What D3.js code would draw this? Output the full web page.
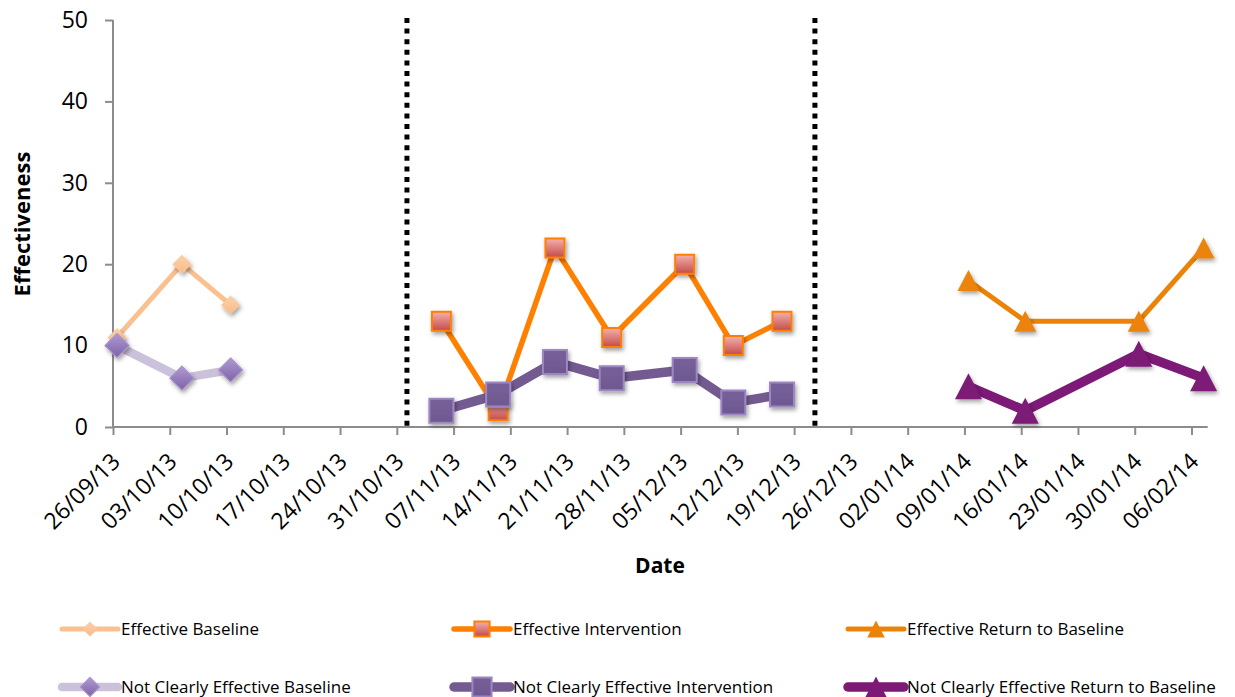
<!DOCTYPE html>
<html><head><meta charset="utf-8">
<script src="https://cdn.jsdelivr.net/npm/d3@7"></script>
<style>body{margin:0;background:#fff;} svg{display:block;}</style>
</head><body>
<svg id="c" width="1235" height="697"></svg>
<script>
// ---- data ----
const tickLabels = ["26/09/13","03/10/13","10/10/13","17/10/13","24/10/13","31/10/13","07/11/13","14/11/13","21/11/13","28/11/13","05/12/13","12/12/13","19/12/13","26/12/13","02/01/14","09/01/14","16/01/14","23/01/14","30/01/14","06/02/14"];
const axisEndDate = "08/02/14";
const yTicks = [0,10,20,30,40,50];
const baselineDates = ["26/09/13","04/10/13","10/10/13"];
const interventionDates = ["05/11/13","12/11/13","19/11/13","26/11/13","05/12/13","11/12/13","17/12/13"];
const returnDates = ["09/01/14","16/01/14","30/01/14","07/02/14"];
const effectiveBaseline = [11,20,15];
const notClearlyBaseline = [10,6,7];
const effectiveIntervention = [13,2,22,11,20,10,13];
const notClearlyIntervention = [2,4,8,6,7,3,4];
const effectiveReturn = [18,13,13,22];
const notClearlyReturn = [5,2,9,6];
const phaseChanges = ["2013-11-01T06:00","2013-12-21T13:30"];
const seriesNames = ["Effective Baseline","Effective Intervention","Effective Return to Baseline","Not Clearly Effective Baseline","Not Clearly Effective Intervention","Not Clearly Effective Return to Baseline"];

// ---- setup ----
const parseD = d3.utcParse("%d/%m/%y");
const parseDT = d3.utcParse("%Y-%m-%dT%H:%M");
const halfDay = 12*3600*1000;
const svg = d3.select("#c");
const x = d3.scaleUtc().domain([parseD(tickLabels[0]), parseD(axisEndDate)]).range([113, 1207.7]);
const y = d3.scaleLinear().domain([0,50]).range([427, 20]);
const tickFont = "'Open Sans', 'Liberation Sans', sans-serif";

const defs = svg.append("defs");
const sh = defs.append("filter").attr("id","shadow").attr("x","-50%").attr("y","-50%").attr("width","200%").attr("height","200%");
sh.append("feDropShadow").attr("dx",1.5).attr("dy",2.5).attr("stdDeviation",2).attr("flood-color","#000").attr("flood-opacity",0.38);
function grad(id, c1, c2){
  const g = defs.append("linearGradient").attr("id",id).attr("x1",0).attr("y1",0).attr("x2",0).attr("y2",1);
  g.append("stop").attr("offset","0%").attr("stop-color",c1);
  g.append("stop").attr("offset","100%").attr("stop-color",c2);
}
grad("gEB","#FCD0AA","#F8BC8A");
grad("gNB","#AE9AD2","#7E62A6");
grad("gEI","#F6B0AE","#C24C49");
grad("gNI","#77609A","#6F5890");

function shapePath(type, w, h){
  if(type==="diamond") return `M0,${-h/2}L${w/2},0L0,${h/2}L${-w/2},0Z`;
  if(type==="square") return `M${-w/2},${-h/2}H${w/2}V${h/2}H${-w/2}Z`;
  return `M0,${-h/2}L${w/2},${h/2}L${-w/2},${h/2}Z`;
}

const series = [
  {name:seriesNames[0], dates:baselineDates, values:effectiveBaseline, line:"#FAC090", lw:5, shape:"diamond", w:19, h:19, fill:"url(#gEB)", stroke:"none", sw:0},
  {name:seriesNames[1], dates:interventionDates, values:effectiveIntervention, line:"#FF7F00", lw:5.5, shape:"square", w:19, h:19, fill:"url(#gEI)", stroke:"#FF7F00", sw:2},
  {name:seriesNames[2], dates:returnDates, values:effectiveReturn, line:"#EB8308", lw:5, shape:"triangle", w:22, h:21, fill:"#EB8308", stroke:"none", sw:0},
  {name:seriesNames[3], dates:baselineDates, values:notClearlyBaseline, line:"#CCC1DA", lw:8.5, shape:"diamond", w:24, h:24, fill:"url(#gNB)", stroke:"#A893CC", sw:1.2},
  {name:seriesNames[4], dates:interventionDates, values:notClearlyIntervention, line:"#735B91", lw:9.5, shape:"square", w:24, h:24, fill:"url(#gNI)", stroke:"#9D87C2", sw:2},
  {name:seriesNames[5], dates:returnDates, values:notClearlyReturn, line:"#7D1A77", lw:9.5, shape:"triangle", w:27, h:26, fill:"#7D1A77", stroke:"none", sw:0}
];

// ---- axes ----
const axisColor = "#8C8C8C";
const yAxis = svg.append("g").attr("transform","translate(113,0)")
  .call(d3.axisLeft(y).tickValues(yTicks).tickSize(8).tickPadding(17));
yAxis.select(".domain").attr("stroke",axisColor).attr("stroke-width",2).attr("d",`M0,${y(50)}V${y(0)}`);
yAxis.selectAll(".tick line").attr("stroke",axisColor).attr("stroke-width",2);
yAxis.selectAll(".tick text").attr("font-family",tickFont).attr("font-size",23).attr("fill","#000");

const xAxis = svg.append("g").attr("transform","translate(0,427)")
  .call(d3.axisBottom(x).tickValues(tickLabels.map(parseD)).tickSize(8).tickFormat(d3.utcFormat("%d/%m/%y")));
xAxis.select(".domain").attr("stroke",axisColor).attr("stroke-width",2).attr("d",`M${x.range()[0]},0H${x.range()[1]}`);
xAxis.selectAll(".tick line").attr("stroke",axisColor).attr("stroke-width",2);
xAxis.selectAll(".tick text")
  .attr("font-family",tickFont).attr("font-size",23).attr("fill","#000")
  .attr("text-anchor","end").attr("dy",null).attr("y",null)
  .attr("transform","translate(8,36) rotate(-45)");

// axis titles
svg.append("text").attr("x",660).attr("y",573).attr("text-anchor","middle")
  .attr("font-family",tickFont).attr("font-weight","bold").attr("font-size",21).text("Date");
svg.append("text").attr("transform","translate(30,224) rotate(-90)").attr("text-anchor","middle")
  .attr("font-family",tickFont).attr("font-weight","bold").attr("font-size",22).text("Effectiveness");

// ---- phase change lines ----
svg.append("g").selectAll("line").data(phaseChanges.map(parseDT)).join("line")
  .attr("x1",d=>x(d)).attr("x2",d=>x(d)).attr("y1",y(50)-2).attr("y2",y(0))
  .attr("stroke","#000").attr("stroke-width",5).attr("stroke-dasharray","5,5.6");

// ---- series ----
const line = d3.line().x(d=>x(d.date)).y(d=>y(d.v));
series.forEach(s=>{
  const pts = s.dates.map((d,i)=>({date:new Date(+parseD(d)+halfDay), v:s.values[i]}));
  const g = svg.append("g");
  g.append("path").datum(pts).attr("d",line).attr("fill","none")
    .attr("stroke",s.line).attr("stroke-width",s.lw).attr("stroke-linejoin","round").attr("stroke-linecap","round");
  g.selectAll(".m").data(pts).join("path").attr("class","m")
    .attr("transform",d=>`translate(${x(d.date)},${y(d.v)})`)
    .attr("d",shapePath(s.shape,s.w,s.h)).attr("fill",s.fill)
    .attr("stroke",s.stroke).attr("stroke-width",s.sw).attr("filter","url(#shadow)");
});

// ---- legend ----
const legCols = [62, 454, 848];
const legRows = [629, 687];
series.forEach((s,i)=>{
  const cx = legCols[i%3], cy = legRows[Math.floor(i/3)];
  const g = svg.append("g").attr("transform",`translate(${cx},${cy})`);
  g.append("line").attr("x1",0).attr("x2",56).attr("y1",0).attr("y2",0)
    .attr("stroke",s.line).attr("stroke-width",s.lw).attr("stroke-linecap","round");
  g.append("path").attr("transform","translate(28,0)").attr("d",shapePath(s.shape,s.w*0.8,s.h*0.8))
    .attr("fill",s.fill).attr("stroke",s.stroke).attr("stroke-width",s.sw);
  g.append("text").attr("x",59).attr("y",0).attr("dy","0.35em")
    .attr("font-family",tickFont).attr("font-size",17).attr("fill","#000").text(s.name);
});
</script>
</body></html>
